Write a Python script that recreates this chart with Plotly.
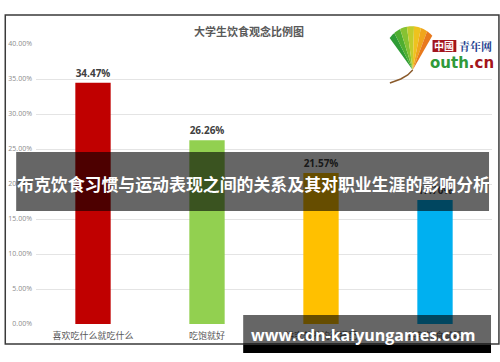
import plotly.graph_objects as go
import math

# ---- data ----
categories = ["喜欢吃什么就吃什么", "吃饱就好", "讲究营养均衡搭配", "控制饮食减肥"]
values = [34.47, 26.26, 21.57, 17.70]
y_ticks = [0, 5, 10, 15, 20, 25, 30, 35, 40]
y_tick_labels = [f"{v:.2f}%" for v in y_ticks]
chart_title = "大学生饮食观念比例图"
banner_text = "布克饮食习惯与运动表现之间的关系及其对职业生涯的影响分析"
footer_text = "www.cdn-kaiyungames.com"

bar_colors = ["#C00000", "#92D050", "#FFC000", "#00B0F0"]

W, H = 500, 362
L, R, T, B = 32, 8, 44, 38
PW, PH = W - L - R, H - T - B


def px(x):
    return (x - L) / PW


def py(y):
    return (H - B - y) / PH


CJK = "Noto Sans CJK SC"

fig = go.Figure()
fig.add_trace(go.Bar(
    x=categories, y=values,
    marker=dict(color=bar_colors, line=dict(width=0)),
    texttemplate="%{y:.2f}%", textposition="outside",
    textfont=dict(size=10, color="#404040", family="Open Sans", weight="bold"),
    cliponaxis=False, width=0.31,
))

fig.update_layout(
    width=W, height=H,
    margin=dict(l=L, r=R, t=T, b=B),
    paper_bgcolor="white", plot_bgcolor="white",
    showlegend=False,
    font=dict(family=CJK),
    xaxis=dict(showgrid=False, showline=False, ticks="", zeroline=False,
               ticklabelstandoff=5,
               tickfont=dict(size=9, color="#595959", family=CJK)),
    yaxis=dict(range=[0, 40], tickvals=y_ticks, ticktext=y_tick_labels,
               showgrid=True, gridcolor="#e4e4e4", gridwidth=1, zeroline=False,
               ticks="", ticklabelstandoff=3,
               tickfont=dict(size=7, color="#8c8c8c", family="Open Sans")),
)


def path_of(pts, close=True):
    s = "M " + " L ".join(f"{px(x):.5f},{py(y):.5f}" for x, y in pts)
    return s + (" Z" if close else "")


shapes = []
# outer frame
shapes.append(dict(type="rect", xref="paper", yref="paper",
                   x0=px(1), x1=px(499), y0=py(344), y1=py(15),
                   line=dict(color="#3a3a3a", width=1.5), fillcolor="rgba(0,0,0,0)",
                   layer="above"))

# logo leaf (fan of wedges)
apex = (412, 70)
leaf_cols = ["#2e9c35", "#4fae30", "#86c232", "#c2cc2c", "#eec21e", "#f0a51c", "#e8791c"]
a0, a1 = math.radians(234), math.radians(300)
rad = 43
n = len(leaf_cols)
for i, c in enumerate(leaf_cols):
    t0 = a0 + (a1 - a0) * i / n
    t1 = a0 + (a1 - a0) * (i + 1) / n
    pts = [apex]
    for k in range(6):
        t = t0 + (t1 - t0) * k / 5
        f = (t - a0) / (a1 - a0)
        r = rad * (0.92 + 0.1 * math.sin(f * math.pi))
        pts.append((apex[0] + r * math.cos(t), apex[1] + r * math.sin(t)))
    shapes.append(dict(type="path", xref="paper", yref="paper", path=path_of(pts),
                       fillcolor=c, line=dict(width=0), layer="above"))
# stem
stem = [(412, 70), (407, 75), (400, 79), (389, 83)]
shapes.append(dict(type="path", xref="paper", yref="paper", path=path_of(stem, False),
                   line=dict(color="#8a5a2b", width=1.5), layer="above"))
# 中國 box
shapes.append(dict(type="rect", xref="paper", yref="paper",
                   x0=px(432), x1=px(456), y0=py(52), y1=py(40),
                   fillcolor="#a3151c", line=dict(width=0), layer="above"))

# title banner
shapes.append(dict(type="rect", xref="paper", yref="paper",
                   x0=px(12), x1=px(489), y0=py(211), y1=py(152),
                   fillcolor="rgba(0,0,0,0.6)", line=dict(width=0), layer="above"))
# footer banner
shapes.append(dict(type="rect", xref="paper", yref="paper",
                   x0=px(241), x1=px(491), y0=py(345), y1=py(315),
                   fillcolor="rgba(0,0,0,0.6)", line=dict(width=0), layer="above"))
shapes.append(dict(type="rect", xref="paper", yref="paper",
                   x0=px(241), x1=px(491), y0=py(353), y1=py(345),
                   fillcolor="#000000", line=dict(width=0), layer="above"))
fig.update_layout(shapes=shapes)

ann = []
ann.append(dict(text=chart_title, x=px(247), y=py(31), xref="paper", yref="paper",
                showarrow=False, xanchor="center", yanchor="middle",
                font=dict(size=11, color="#595959", family=CJK, weight="bold")))
ann.append(dict(text="中國", x=px(444), y=py(46), xref="paper", yref="paper",
                showarrow=False, xanchor="center", yanchor="middle",
                font=dict(size=10, color="white", family=CJK, weight="bold")))
ann.append(dict(text="青年网", x=px(475), y=py(46), xref="paper", yref="paper",
                showarrow=False, xanchor="center", yanchor="middle",
                font=dict(size=11, color="#1d3f8f", family="Noto Serif CJK SC, " + CJK, weight="bold")))
ann.append(dict(text="<span style='color:#2f9a3a'>outh</span><span style='color:#a3151c'>.cn</span>",
                x=px(462), y=py(63), xref="paper", yref="paper",
                showarrow=False, xanchor="center", yanchor="middle",
                font=dict(size=15, family="DejaVu Sans", weight="bold")))
ann.append(dict(text=banner_text, x=px(251), y=py(183), xref="paper", yref="paper",
                showarrow=False, xanchor="center", yanchor="middle",
                font=dict(size=16.9, color="white", family=CJK, weight="bold")))
ann.append(dict(text=footer_text, x=px(362), y=py(335), xref="paper", yref="paper",
                showarrow=False, xanchor="center", yanchor="middle",
                font=dict(size=16, color="white", family="Open Sans", weight="bold")))
fig.update_layout(annotations=ann)

fig.write_html("out.html")
